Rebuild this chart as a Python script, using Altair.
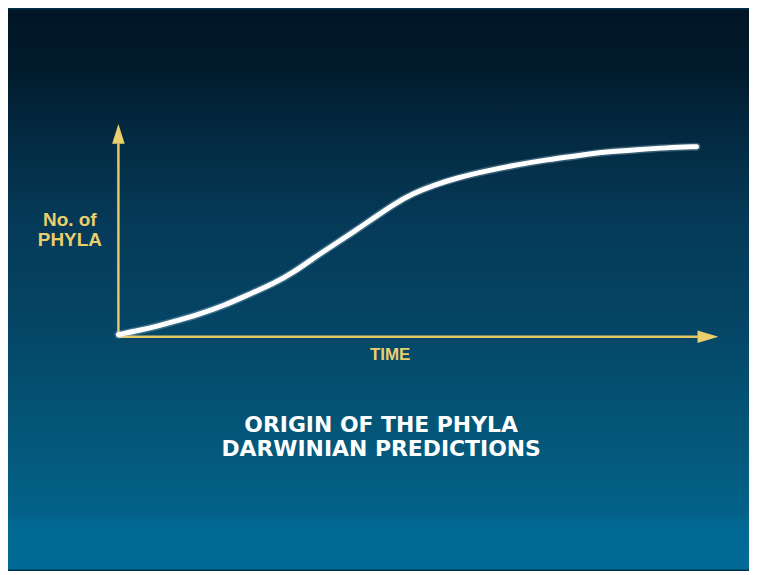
import altair as alt
import pandas as pd

# ---- data (time and number of phyla, 0..100 along each arrow) ----
time = [0, 3.5, 6.8, 10.1, 13.4, 17.6, 21.7, 25.9, 29.2, 32.5, 35.8, 39.1, 42.5,
        45.8, 49.1, 52.4, 56.6, 61.5, 66.5, 71.5, 76.4, 81.4, 86.4, 91.4, 96.4]
phyla = [1.0, 3.0, 5.2, 7.8, 10.5, 14.6, 19.8, 25.0, 30.2, 36.9, 43.0, 49.1, 55.6,
         62.1, 67.3, 71.0, 74.8, 78.0, 80.8, 83.2, 85.0, 86.9, 87.9, 88.8, 89.3]

axis_text = ["No. of", "PHYLA", "TIME"]
axis_text_t = [-8.1, -8.1, 45.3]
axis_text_p = [54.7, 45.3, -8.4]
axis_text_size = [19, 19, 17]

title_lines = ["ORIGIN OF THE PHYLA", "DARWINIAN PREDICTIONS"]
title_t = [43.8, 43.8]
title_p = [-41.6, -52.6]

# axis arrows (data units)
y_arrow_top = 90.8
x_arrow_end = 96.6

# ---- layout ----
W, H = 745, 563
x0_px, x_unit = 111.0, 6.03     # pixel of time 0, pixels per unit
y0_px, y_unit = 329.0, 2.14     # pixel of phyla 0, pixels per unit
x_dom = [-x0_px / x_unit, (W - x0_px) / x_unit]
y_dom = [(y0_px - H) / y_unit, y0_px / y_unit]

YELLOW = "#ebcf6b"
AXIS = "#e6c863"

xs = alt.Scale(domain=x_dom, nice=False, zero=False)
ys = alt.Scale(domain=y_dom, nice=False, zero=False)


def X(field):
    return alt.X(field, type="quantitative", scale=xs, axis=None)


def Y(field):
    return alt.Y(field, type="quantitative", scale=ys, axis=None)


grad = alt.LinearGradient(
    gradient="linear", x1=0, x2=0, y1=0, y2=1,
    stops=[
        alt.GradientStop(color="#011626", offset=0.0),
        alt.GradientStop(color="#011b2d", offset=0.11),
        alt.GradientStop(color="#03283f", offset=0.21),
        alt.GradientStop(color="#053a58", offset=0.38),
        alt.GradientStop(color="#054565", offset=0.56),
        alt.GradientStop(color="#045677", offset=0.75),
        alt.GradientStop(color="#03628a", offset=0.905),
        alt.GradientStop(color="#006893", offset=0.915),
        alt.GradientStop(color="#006b96", offset=1.0),
    ],
)

bg = alt.Chart(pd.DataFrame({"a": [0]})).mark_rect(color=grad).encode(
    x=alt.value(0), x2=alt.value(W), y=alt.value(0), y2=alt.value(H)
)

curve_df = pd.DataFrame({"t": time, "p": phyla})
glow = alt.Chart(curve_df).mark_line(
    color="#cde6f4", strokeWidth=8, opacity=0.25, interpolate="basis", strokeCap="round"
).encode(x=X("t"), y=Y("p"))
curve = alt.Chart(curve_df).mark_line(
    color="#ffffff", strokeWidth=5, interpolate="basis", strokeCap="round"
).encode(x=X("t"), y=Y("p"))

yaxis = alt.Chart(pd.DataFrame({"t": [0], "p": [0], "p2": [y_arrow_top]})).mark_rule(
    color=AXIS, strokeWidth=2.5
).encode(x=X("t"), y=Y("p"), y2="p2")
xaxis = alt.Chart(pd.DataFrame({"t": [0], "t2": [x_arrow_end], "p": [0]})).mark_rule(
    color=AXIS, strokeWidth=2.5
).encode(x=X("t"), x2="t2", y=Y("p"))

y_head = alt.Chart(pd.DataFrame({"t": [0], "p": [95.3]})).mark_point(
    shape="M0,-1L0.63,1L-0.63,1Z", size=400, filled=True, color=YELLOW, opacity=1
).encode(x=X("t"), y=Y("p"))
x_head = alt.Chart(pd.DataFrame({"t": [98.3], "p": [0]})).mark_point(
    shape="M1,0L-1,-0.6L-1,0.6Z", size=441, filled=True, color=YELLOW, opacity=1
).encode(x=X("t"), y=Y("p"))

lab_df = pd.DataFrame({"txt": axis_text, "t": axis_text_t, "p": axis_text_p, "s": axis_text_size})
labels = alt.Chart(lab_df).mark_text(
    font="Liberation Sans", fontWeight="bold", color=YELLOW, align="center", baseline="middle"
).encode(x=X("t"), y=Y("p"), text="txt:N", size=alt.Size("s:Q", scale=None, legend=None))

title_df = pd.DataFrame({"txt": title_lines, "t": title_t, "p": title_p})
titles = alt.Chart(title_df).mark_text(
    font="DejaVu Sans", fontWeight="bold", fontSize=22, color="#ffffff",
    align="center", baseline="middle"
).encode(x=X("t"), y=Y("p"), text="txt:N")

chart = alt.layer(bg, yaxis, xaxis, y_head, x_head, glow, curve, labels, titles).properties(
    width=W, height=H, padding=0, autosize=alt.AutoSizeParams(type="none"),
    background="#01304a",
).configure_view(stroke=None)

chart.save("out.html", embed_options={"renderer": "svg", "actions": False})
